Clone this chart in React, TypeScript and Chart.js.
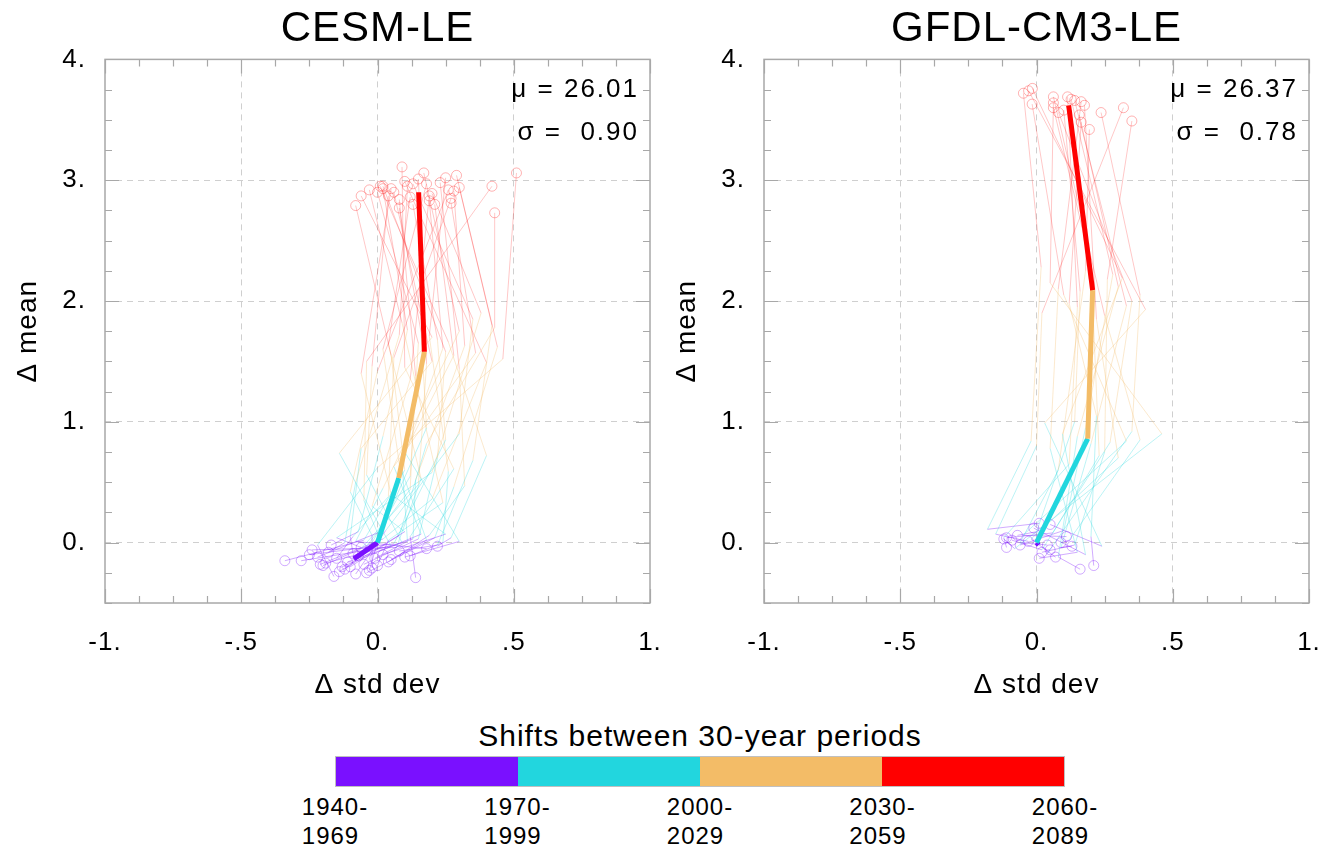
import React, { useEffect, useRef } from "react";
import { Chart, registerables } from "chart.js";

Chart.register(...registerables);

const FONT = "'Liberation Sans', Arial, Helvetica, sans-serif";

// ---- Legend / colour bar ----
const PERIOD_START = ["1940-", "1970-", "2000-", "2030-", "2060-"];
const PERIOD_END = ["1969", "1999", "2029", "2059", "2089"];
const SHIFT_COLORS = ["#7a10ff", "#22d6de", "#f3bc67", "#ff0000"];
const MEMBER_COLORS = [
  "rgba(122,16,255,0.35)",
  "rgba(34,214,222,0.30)",
  "rgba(243,188,103,0.32)",
  "rgba(255,0,0,0.22)",
];
const START_CIRCLE_COLOR = "rgba(122,16,255,0.35)";
const END_CIRCLE_COLOR = "rgba(255,0,0,0.30)";
const LEGEND_TITLE = "Shifts between 30-year periods";

// ---- Axes ----
const X_TICKS = [-1, -0.5, 0, 0.5, 1];
const X_TICK_LABELS = ["-1.", "-.5", "0.", ".5", "1."];
const Y_TICKS = [0, 1, 2, 3, 4];
const Y_TICK_LABELS = ["0.", "1.", "2.", "3.", "4."];
const X_MIN = -1, X_MAX = 1, Y_MIN = -0.5, Y_MAX = 4;
const X_MINOR_STEP = 0.125;
const Y_MINOR_STEP = 0.25;
const X_TITLE = "Δ std dev";
const Y_TITLE = "Δ mean";

// ---- CESM-LE members (Δ std dev, Δ mean) per period ----
const CESM_SD_1940 = [-0.34, -0.28, 0.14, 0.18, -0.04, -0.16, -0.10, -0.22, -0.12, -0.05, 0.02, -0.18, -0.08, -0.20, 0.05, -0.14, -0.06, 0.10, -0.25, -0.02, -0.11, 0.08, -0.15, -0.03, -0.19, 0.22, -0.07, -0.13, 0.00, -0.09, -0.24, 0.04, -0.17, -0.01, -0.21, 0.12];
const CESM_MEAN_1940 = [-0.15, -0.15, -0.29, -0.05, -0.25, -0.28, -0.20, -0.12, -0.22, -0.18, -0.10, -0.08, -0.26, -0.19, -0.14, -0.24, -0.04, -0.12, -0.10, -0.21, -0.16, -0.07, -0.13, -0.23, -0.17, -0.03, -0.11, -0.20, -0.19, -0.09, -0.06, -0.16, -0.02, -0.13, -0.18, -0.11];
const CESM_SD_1970 = [-0.05, 0.05, 0.12, -0.08, 0.21, -0.22, 0.08, 0.00, -0.03, 0.15, 0.25, -0.12, 0.03, -0.06, 0.18, 0.10, -0.15, 0.30, 0.06, -0.02, 0.13, 0.22, -0.09, 0.01, 0.09, 0.27, -0.04, 0.16, 0.04, -0.10, 0.07, 0.19, -0.07, 0.11, 0.02, 0.24];
const CESM_MEAN_1970 = [0.02, -0.03, 0.05, 0.01, 0.04, -0.02, 0.06, 0.08, -0.04, 0.03, 0.07, 0.00, 0.10, -0.05, 0.02, 0.09, 0.04, 0.01, -0.01, 0.06, 0.03, -0.02, 0.05, 0.08, 0.00, 0.04, -0.03, 0.07, 0.02, 0.05, -0.04, 0.06, 0.09, 0.01, 0.03, 0.00];
const CESM_SD_2000 = [0.10, -0.14, 0.28, 0.02, 0.28, 0.00, 0.18, -0.05, 0.12, 0.22, 0.05, -0.08, 0.30, 0.15, 0.08, -0.02, 0.20, 0.10, 0.25, -0.10, 0.14, 0.35, 0.04, 0.18, -0.04, 0.40, 0.12, 0.06, 0.24, -0.06, 0.16, 0.32, 0.02, 0.09, 0.20, 0.26];
const CESM_MEAN_2000 = [0.60, 0.74, 0.61, 0.45, 0.46, 0.62, 0.82, 0.35, 0.55, 0.70, 0.40, 0.50, 0.90, 0.48, 0.65, 0.30, 0.58, 0.75, 0.85, 0.42, 0.52, 0.68, 0.38, 0.95, 0.56, 0.72, 0.44, 0.63, 0.33, 0.78, 0.53, 0.47, 0.88, 0.66, 0.36, 0.59];
const CESM_SD_2030 = [0.05, 0.20, 0.10, 0.30, 0.44, 0.46, 0.43, -0.04, 0.15, 0.25, -0.06, 0.08, 0.35, 0.18, 0.02, 0.12, 0.38, 0.28, 0.22, 0.00, 0.32, 0.42, 0.06, 0.16, -0.02, 0.26, 0.14, 0.36, 0.09, 0.20, 0.04, 0.30, 0.11, 0.24, 0.40, 0.19];
const CESM_MEAN_2030 = [1.55, 1.70, 1.45, 1.75, 1.62, 1.52, 1.78, 1.50, 1.65, 1.58, 1.40, 1.72, 1.85, 1.48, 1.60, 1.35, 1.90, 1.55, 1.68, 1.42, 1.63, 1.80, 1.53, 1.74, 1.46, 1.66, 1.38, 1.57, 1.82, 1.50, 1.64, 1.44, 1.76, 1.61, 1.49, 1.71];
const CESM_SD_2060 = [-0.08, -0.06, 0.09, 0.17, 0.29, 0.51, 0.43, 0.42, 0.00, 0.02, 0.05, 0.11, 0.13, 0.15, 0.18, 0.19, 0.20, 0.21, 0.13, 0.26, 0.28, 0.30, 0.27, 0.08, 0.04, 0.01, 0.08, 0.27, -0.03, 0.06, 0.12, 0.23, 0.02, 0.19, 0.10, 0.25];
const CESM_MEAN_2060 = [2.79, 2.87, 3.11, 3.06, 3.04, 3.06, 2.73, 2.95, 2.90, 2.95, 2.93, 2.95, 2.97, 3.01, 2.97, 2.87, 2.89, 2.80, 2.80, 2.92, 2.91, 2.94, 2.85, 2.77, 2.87, 2.95, 2.84, 2.81, 2.92, 2.90, 2.86, 2.98, 2.93, 2.83, 2.99, 3.02];
// CESM-LE ensemble mean path
const CESM_ENS_SD = [-0.087, 0.0, 0.078, 0.172, 0.151];
const CESM_ENS_MEAN = [-0.135, 0.0, 0.535, 1.58, 2.90];
const CESM_STATS = ["μ = 26.01", "σ =  0.90"];

// ---- GFDL-CM3-LE members ----
const GFDL_SD_1940 = [0.01, 0.05, -0.01, 0.11, 0.09, -0.12, -0.11, -0.09, -0.11, -0.06, 0.01, 0.07, 0.16, 0.21, 0.04, 0.05, -0.03, 0.02, -0.07, 0.13];
const GFDL_MEAN_1940 = [0.16, 0.15, 0.12, 0.05, 0.00, 0.03, 0.04, 0.02, -0.04, -0.02, -0.13, -0.12, -0.22, -0.19, -0.02, -0.06, 0.01, -0.08, 0.06, -0.03];
const GFDL_SD_1970 = [-0.18, 0.24, 0.18, -0.05, 0.12, -0.08, 0.06, 0.02, -0.12, 0.10, 0.15, -0.02, 0.08, 0.20, -0.06, 0.04, -0.15, 0.14, 0.00, 0.09];
const GFDL_MEAN_1970 = [0.11, -0.03, -0.10, 0.06, 0.02, -0.05, 0.08, -0.06, 0.04, 0.10, -0.08, 0.03, -0.12, 0.05, 0.00, -0.09, 0.07, -0.02, 0.09, -0.04];
const GFDL_SD_2000 = [-0.02, 0.03, 0.095, 0.33, 0.38, 0.46, 0.23, 0.27, 0.12, 0.18, 0.05, 0.30, 0.15, 0.22, 0.08, 0.35, 0.00, 0.25, 0.14, 0.20];
const GFDL_MEAN_2000 = [0.84, 0.99, 0.90, 0.84, 0.85, 0.90, 0.72, 0.83, 0.65, 0.95, 0.78, 0.70, 0.88, 1.05, 0.60, 0.92, 0.80, 0.75, 1.00, 0.82];
const GFDL_SD_2030 = [0.017, 0.40, 0.315, 0.10, 0.25, 0.05, 0.20, 0.35, 0.15, 0.28, 0.08, 0.22, 0.30, 0.12, 0.18, 0.38, 0.02, 0.26, 0.16, 0.33];
const GFDL_MEAN_2030 = [2.28, 1.93, 2.19, 2.05, 1.88, 2.15, 2.30, 2.00, 1.95, 2.22, 2.10, 1.85, 2.12, 1.98, 2.25, 2.05, 1.90, 2.18, 2.08, 1.96];
const GFDL_SD_2060 = [-0.048, -0.029, -0.015, -0.016, 0.062, 0.062, 0.062, 0.081, 0.114, 0.127, 0.164, 0.176, 0.157, 0.164, 0.194, 0.237, 0.319, 0.35, 0.10, 0.14];
const GFDL_MEAN_2060 = [3.72, 3.74, 3.76, 3.63, 3.69, 3.64, 3.60, 3.56, 3.69, 3.67, 3.65, 3.62, 3.54, 3.48, 3.42, 3.56, 3.60, 3.49, 3.58, 3.66];
const GFDL_ENS_SD = [0.008, 0.0, 0.188, 0.206, 0.118];
const GFDL_ENS_MEAN = [-0.02, 0.0, 0.86, 2.09, 3.62];
const GFDL_STATS = ["μ = 26.37", "σ =  0.78"];

const GRID_COLOR = "#cfcfcf";
const FRAME_COLOR = "#a8a8a8";

type PanelProps = {
  title: string;
  stats: string[];
  sdCols: number[][];
  meanCols: number[][];
  ensSd: number[];
  ensMean: number[];
  left: number;
};

const spacingPlugin = {
  id: "spacing",
  beforeDraw(chart: any) {
    chart.ctx.letterSpacing = "1px";
  },
};

const framePlugin = {
  id: "frame",
  afterDatasetsDraw(chart: any, _args: any, opts: any) {
    const { ctx, chartArea } = chart;
    const { left, right, top, bottom } = chartArea;
    const xs = chart.scales.x;
    const ys = chart.scales.y;
    ctx.save();
    ctx.strokeStyle = FRAME_COLOR;
    ctx.lineWidth = 1.2;
    ctx.beginPath();
    const nx = Math.round((X_MAX - X_MIN) / X_MINOR_STEP);
    for (let i = 0; i <= nx; i++) {
      const v = X_MIN + i * X_MINOR_STEP;
      const major = X_TICKS.some((t) => Math.abs(t - v) < 1e-9);
      const len = major ? 14 : 7;
      const px = Math.round(xs.getPixelForValue(v)) + 0.5;
      ctx.moveTo(px, bottom);
      ctx.lineTo(px, bottom - len);
      ctx.moveTo(px, top);
      ctx.lineTo(px, top + len);
    }
    const ny = Math.round((Y_MAX - Y_MIN) / Y_MINOR_STEP);
    for (let i = 0; i <= ny; i++) {
      const v = Y_MIN + i * Y_MINOR_STEP;
      const major = Y_TICKS.some((t) => Math.abs(t - v) < 1e-9);
      const len = major ? 14 : 7;
      const py = Math.round(ys.getPixelForValue(v)) + 0.5;
      ctx.moveTo(left, py);
      ctx.lineTo(left + len, py);
      ctx.moveTo(right, py);
      ctx.lineTo(right - len, py);
    }
    ctx.stroke();
    ctx.lineWidth = 1.5;
    ctx.strokeRect(left, top, right - left, bottom - top);
    // statistics annotation
    ctx.fillStyle = "#000";
    ctx.font = `26px ${FONT}`;
    ctx.letterSpacing = "2px";
    ctx.textAlign = "right";
    ctx.textBaseline = "middle";
    (opts.lines || []).forEach((t: string, i: number) => {
      ctx.fillText(t, right - 11, top + 30 + i * 43);
    });
    ctx.restore();
  },
};

function Panel(props: PanelProps) {
  const ref = useRef<HTMLCanvasElement>(null);
  useEffect(() => {
    if (!ref.current) return;
    const { sdCols, meanCols, ensSd, ensMean } = props;
    const n = sdCols[0].length;
    const datasets: any[] = [];
    datasets.push({
      label: "ensemble mean",
      data: ensSd.map((x, k) => ({ x, y: ensMean[k] })),
      showLine: true,
      borderWidth: 5,
      borderColor: SHIFT_COLORS[0],
      borderCapStyle: "butt",
      segment: { borderColor: (c: any) => SHIFT_COLORS[c.p0DataIndex] },
      pointRadius: 0,
      order: 0,
    });
    for (let i = 0; i < n; i++) {
      datasets.push({
        label: "member " + (i + 1),
        data: sdCols.map((col, k) => ({ x: col[i], y: meanCols[k][i] })),
        showLine: true,
        borderWidth: 1,
        borderColor: MEMBER_COLORS[0],
        segment: { borderColor: (c: any) => MEMBER_COLORS[c.p0DataIndex] },
        pointRadius: [5, 0, 0, 0, 5],
        pointBorderWidth: 1,
        pointBorderColor: [START_CIRCLE_COLOR, "rgba(0,0,0,0)", "rgba(0,0,0,0)", "rgba(0,0,0,0)", END_CIRCLE_COLOR],
        pointBackgroundColor: "rgba(0,0,0,0)",
        order: 1,
      });
    }
    const chart = new Chart(ref.current, {
      type: "scatter",
      data: { datasets },
      plugins: [spacingPlugin, framePlugin],
      options: {
        animation: false,
        responsive: false,
        devicePixelRatio: 1,
        events: [],
        layout: { padding: { left: 0, right: 15, top: 0, bottom: 0 } },
        plugins: {
          legend: { display: false },
          tooltip: { enabled: false },
          title: {
            display: true,
            text: props.title,
            fullSize: false,
            color: "#000",
            font: { family: FONT, size: 42, weight: "normal" },
            padding: { top: 4, bottom: 5 },
          },
          frame: { lines: props.stats },
        } as any,
        scales: {
          x: {
            type: "linear",
            min: X_MIN,
            max: X_MAX,
            afterBuildTicks: (s: any) => {
              s.ticks = X_TICKS.map((v) => ({ value: v }));
            },
            afterFit: (s: any) => {
              s.height = 110;
              s.paddingLeft = 0;
              s.paddingRight = 0;
            },
            ticks: {
              callback: (_v: any, i: number) => X_TICK_LABELS[i],
              color: "#000",
              font: { family: FONT, size: 26 },
              padding: 24,
              maxRotation: 0,
              autoSkip: false,
            },
            grid: {
              drawTicks: false,
              lineWidth: 1,
              color: (c: any) =>
                c.tick && (c.tick.value === X_MIN || c.tick.value === X_MAX) ? "rgba(0,0,0,0)" : GRID_COLOR,
            },
            border: { display: false, dash: [6, 5] },
            title: {
              display: true,
              text: X_TITLE,
              color: "#000",
              font: { family: FONT, size: 28 },
              padding: { top: 0, bottom: 11 },
            },
          },
          y: {
            type: "linear",
            min: Y_MIN,
            max: Y_MAX,
            afterBuildTicks: (s: any) => {
              s.ticks = Y_TICKS.map((v) => ({ value: v }));
            },
            afterFit: (s: any) => {
              s.width = 105;
              s.paddingTop = 0;
              s.paddingBottom = 0;
            },
            ticks: {
              callback: (_v: any, i: number) => Y_TICK_LABELS[i],
              color: "#000",
              font: { family: FONT, size: 26 },
              padding: 19,
              autoSkip: false,
            },
            grid: {
              drawTicks: false,
              lineWidth: 1,
              color: (c: any) =>
                c.tick && (c.tick.value === Y_MAX || c.tick.value === Y_MIN) ? "rgba(0,0,0,0)" : GRID_COLOR,
            },
            border: { display: false, dash: [6, 5] },
            title: {
              display: true,
              text: Y_TITLE,
              color: "#000",
              font: { family: FONT, size: 28 },
              padding: { top: 11, bottom: 0 },
            },
          },
        },
      } as any,
    });
    return () => chart.destroy();
  }, []);
  return (
    <canvas
      ref={ref}
      width={665}
      height={713}
      style={{ position: "absolute", left: props.left, top: 0, width: 665, height: 713, display: "block" }}
    />
  );
}

function ColorBar() {
  const barLeft = 335;
  const barWidth = 730;
  const seg = barWidth / SHIFT_COLORS.length;
  return (
    <>
      <div
        style={{
          position: "absolute",
          left: barLeft + barWidth / 2,
          top: 719,
          transform: "translateX(-50%)",
          whiteSpace: "nowrap",
          fontFamily: FONT,
          fontSize: 30,
          letterSpacing: "1px",
          lineHeight: "34px",
          color: "#000",
        }}
      >
        {LEGEND_TITLE}
      </div>
      <div
        style={{
          position: "absolute",
          left: barLeft,
          top: 756,
          width: barWidth,
          height: 31,
          display: "flex",
          boxSizing: "border-box",
          border: "1px solid #c0c0c0",
        }}
      >
        {SHIFT_COLORS.map((c, i) => (
          <div key={i} style={{ flex: 1, background: c }} />
        ))}
      </div>
      {PERIOD_START.map((s, i) => (
        <div
          key={i}
          style={{
            position: "absolute",
            left: barLeft + i * seg,
            top: 792,
            transform: "translateX(-50%)",
            textAlign: "left",
            fontFamily: FONT,
            fontSize: 24,
            letterSpacing: "1px",
            lineHeight: "29px",
            color: "#000",
            whiteSpace: "nowrap",
          }}
        >
          {s}
          <br />
          {PERIOD_END[i]}
        </div>
      ))}
    </>
  );
}

export default function App() {
  return (
    <div style={{ position: "absolute", left: 0, top: 0, width: 1331, height: 849, background: "#fff", overflow: "hidden" }}>
      <Panel
        title="CESM-LE"
        stats={CESM_STATS}
        sdCols={[CESM_SD_1940, CESM_SD_1970, CESM_SD_2000, CESM_SD_2030, CESM_SD_2060]}
        meanCols={[CESM_MEAN_1940, CESM_MEAN_1970, CESM_MEAN_2000, CESM_MEAN_2030, CESM_MEAN_2060]}
        ensSd={CESM_ENS_SD}
        ensMean={CESM_ENS_MEAN}
        left={0}
      />
      <Panel
        title="GFDL-CM3-LE"
        stats={GFDL_STATS}
        sdCols={[GFDL_SD_1940, GFDL_SD_1970, GFDL_SD_2000, GFDL_SD_2030, GFDL_SD_2060]}
        meanCols={[GFDL_MEAN_1940, GFDL_MEAN_1970, GFDL_MEAN_2000, GFDL_MEAN_2030, GFDL_MEAN_2060]}
        ensSd={GFDL_ENS_SD}
        ensMean={GFDL_ENS_MEAN}
        left={659}
      />
      <ColorBar />
    </div>
  );
}
